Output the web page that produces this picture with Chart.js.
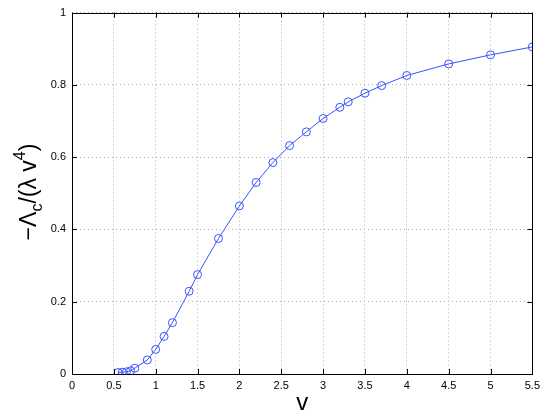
<!DOCTYPE html>
<html>
<head>
<meta charset="utf-8">
<script src="https://cdn.jsdelivr.net/npm/chart.js@4"></script>
<style>
  html, body { margin: 0; padding: 0; background: #fff; }
  #wrap { width: 545px; height: 418px; }
</style>
</head>
<body>
<div id="wrap"><canvas id="chart" width="545" height="418"></canvas></div>
<script>
// v values (x axis)
const vValues = [0.55, 0.6, 0.65, 0.7, 0.75, 0.9, 1.0, 1.1, 1.2, 1.4, 1.5, 1.75, 2.0,
                 2.2, 2.4, 2.6, 2.8, 3.0, 3.2, 3.3, 3.5, 3.7, 4.0, 4.5, 5.0, 5.5];
// -Lambda_c / (lambda v^4)
const lambdaRatio = [0.004, 0.005, 0.006, 0.009, 0.016, 0.039, 0.068, 0.104, 0.142, 0.229,
                     0.275, 0.375, 0.465, 0.530, 0.585, 0.632, 0.670, 0.707, 0.738, 0.753,
                     0.777, 0.798, 0.826, 0.858, 0.883, 0.905];
const xTicks = [0, 0.5, 1, 1.5, 2, 2.5, 3, 3.5, 4, 4.5, 5, 5.5];
const yTicks = [0, 0.2, 0.4, 0.6, 0.8, 1];

const FONT = '"Liberation Sans", Arial, Helvetica, sans-serif';

// matlab style numbers: 0, 0.5, 1 ...
const fmt = v => String(+Number(v).toFixed(2));

// frame, inward tick marks and the y axis label (with sub/superscript)
const matlabAxes = {
    id: 'matlabAxes',
    afterDraw(chart) {
        const ctx = chart.ctx;
        const a = chart.chartArea;
        const xs = chart.scales.x, ys = chart.scales.y;
        ctx.save();
        ctx.strokeStyle = '#000';
        ctx.lineWidth = 1;
        ctx.strokeRect(Math.round(a.left) + 0.5, Math.round(a.top) + 0.5,
                       Math.round(a.right - a.left), Math.round(a.bottom - a.top));
        ctx.beginPath();
        const tl = 5;
        xTicks.forEach(t => {
            const px = Math.round(xs.getPixelForValue(t)) + 0.5;
            ctx.moveTo(px, a.bottom); ctx.lineTo(px, a.bottom - tl);
            ctx.moveTo(px, a.top); ctx.lineTo(px, a.top + tl);
        });
        yTicks.forEach(t => {
            const py = Math.round(ys.getPixelForValue(t)) + 0.5;
            ctx.moveTo(a.left, py); ctx.lineTo(a.left + tl, py);
            ctx.moveTo(a.right, py); ctx.lineTo(a.right - tl, py);
        });
        ctx.stroke();

        // y label: -Λ_c/(λ v^4)
        const parts = [
            { t: '\u2212\u039B', size: 23, dy: 0 },
            { t: 'c', size: 16, dy: 6 },
            { t: '/(\u03BB v', size: 23, dy: 0 },
            { t: '4', size: 16, dy: -11 },
            { t: ')', size: 23, dy: 0 }
        ];
        let total = 0;
        parts.forEach(p => {
            ctx.font = p.size + 'px ' + FONT;
            p.w = ctx.measureText(p.t).width;
            total += p.w;
        });
        ctx.translate(36, 192);
        ctx.rotate(-Math.PI / 2);
        ctx.fillStyle = '#000';
        ctx.textBaseline = 'alphabetic';
        let x = -total / 2;
        parts.forEach(p => {
            ctx.font = p.size + 'px ' + FONT;
            ctx.fillText(p.t, x, p.dy);
            x += p.w;
        });
        ctx.restore();
    }
};

const points = vValues.map((v, i) => ({ x: v, y: lambdaRatio[i] }));

new Chart(document.getElementById('chart'), {
    type: 'line',
    data: {
        datasets: [{
            data: points,
            borderColor: '#3a52ff',
            borderWidth: 1,
            backgroundColor: 'rgba(0,0,0,0)',
            pointStyle: 'circle',
            pointRadius: 4,
            pointBorderWidth: 1,
            pointBorderColor: '#3a52ff',
            pointBackgroundColor: 'rgba(0,0,0,0)',
            tension: 0,
            fill: false
        }]
    },
    options: {
        responsive: false,
        animation: false,
        devicePixelRatio: 1,
        layout: { padding: { top: 11, right: 12, left: 0, bottom: 0 } },
        plugins: {
            legend: { display: false },
            tooltip: { enabled: false }
        },
        scales: {
            x: {
                type: 'linear',
                min: 0,
                max: 5.5,
                afterBuildTicks: s => { s.ticks = xTicks.map(v => ({ value: v })); },
                afterFit: s => { s.height = 44; },
                grid: { color: '#b0b0b0', lineWidth: 1, drawTicks: false },
                border: { display: false, dash: [1, 3] },
                ticks: { padding: 5, color: '#000', font: { family: FONT, size: 11 }, maxRotation: 0, callback: fmt },
                title: { display: true, text: 'v', color: '#000', font: { family: FONT, size: 24 }, padding: { top: 0, bottom: 0 } }
            },
            y: {
                type: 'linear',
                min: 0,
                max: 1,
                afterBuildTicks: s => { s.ticks = yTicks.map(v => ({ value: v })); },
                afterFit: s => { s.width = 72; },
                grid: { color: '#b0b0b0', lineWidth: 1, drawTicks: false },
                border: { display: false, dash: [1, 3] },
                ticks: { padding: 6, color: '#000', font: { family: FONT, size: 11 }, callback: fmt }
            }
        }
    },
    plugins: [matlabAxes]
});
</script>
</body>
</html>
